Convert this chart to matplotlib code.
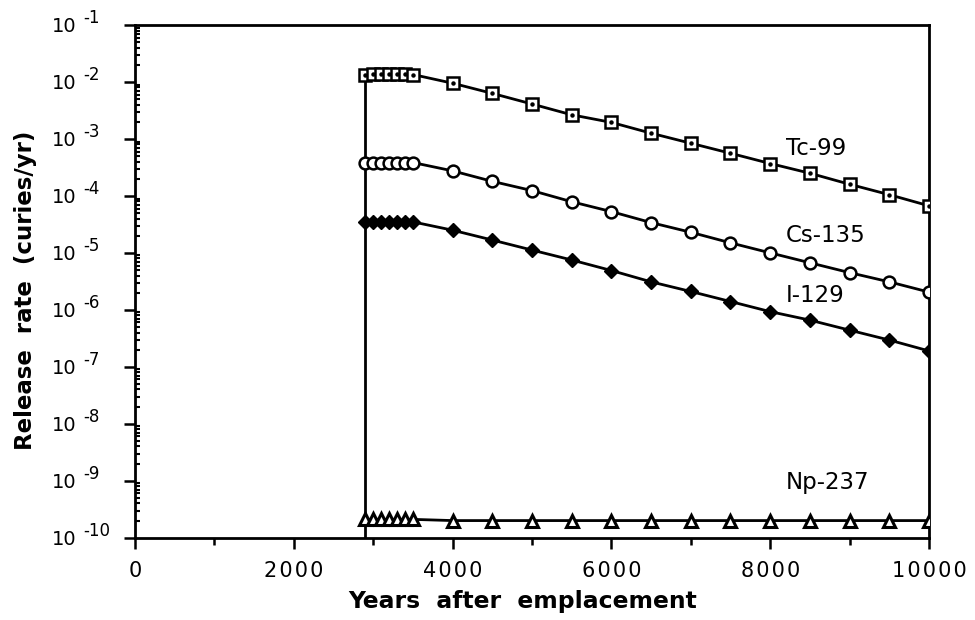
import matplotlib
matplotlib.use("Agg")
import matplotlib.pyplot as plt
from matplotlib.ticker import FixedLocator, LogLocator, NullFormatter, FuncFormatter

# ---- data ----
years = [2900, 3000, 3100, 3200, 3300, 3400, 3500,
         4000, 4500, 5000, 5500, 6000, 6500, 7000, 7500, 8000, 8500, 9000, 9500, 10000]
tc99 = [1.3e-2, 1.4e-2, 1.4e-2, 1.4e-2, 1.4e-2, 1.4e-2, 1.35e-2,
        9.5e-3, 6.3e-3, 4.1e-3, 2.65e-3, 1.95e-3, 1.26e-3, 8.4e-4, 5.6e-4, 3.7e-4,
        2.5e-4, 1.6e-4, 1.05e-4, 6.7e-5]
cs135 = [3.85e-4] * 7 + [2.75e-4, 1.8e-4, 1.24e-4, 7.9e-5, 5.3e-5, 3.4e-5, 2.3e-5,
                         1.5e-5, 1.0e-5, 6.7e-6, 4.5e-6, 3.1e-6, 2.05e-6]
i129 = [3.5e-5] * 7 + [2.5e-5, 1.68e-5, 1.12e-5, 7.5e-6, 4.9e-6, 3.1e-6, 2.1e-6,
                       1.4e-6, 9.3e-7, 6.6e-7, 4.4e-7, 2.95e-7, 1.9e-7]
np237 = [2.1e-10] * 7 + [2.0e-10] * 13

series_names = ["Tc-99", "Cs-135", "I-129", "Np-237"]
label_pos = [(8200, 6.9e-4), (8200, 1.98e-5), (8200, 1.75e-6), (8200, 9.5e-10)]
x_ticks = [0, 2000, 4000, 6000, 8000, 10000]
y_exponents = list(range(-1, -11, -1))

fig = plt.figure(figsize=(9.75, 6.2), dpi=100)
ax = fig.add_axes([0.1385, 0.1327, 0.9528 - 0.1385, 0.9597 - 0.1327])

ax.set_yscale("log")
ax.set_xlim(0, 10000)
ax.set_ylim(1e-10, 1e-1)

lw = 2.0
# vertical start line at release start
ax.vlines(years[0], 1e-10, tc99[0], colors="black", linewidth=lw, zorder=2)

ax.plot(years, tc99, color="black", lw=lw, marker="s", ms=8, mfc="white",
        mec="black", mew=1.8, zorder=3)
ax.plot(years, tc99, linestyle="none", marker="o", ms=2.2, mfc="black",
        mec="black", zorder=4)
ax.plot(years, cs135, color="black", lw=lw, marker="o", ms=8.5, mfc="white",
        mec="black", mew=1.8, zorder=3)
ax.plot(years, i129, color="black", lw=lw, marker="D", ms=7, mfc="black",
        mec="black", mew=1.0, zorder=3)
ax.plot(years, np237, color="black", lw=lw, marker="^", ms=8, mfc="white",
        mec="black", mew=2.2, zorder=3)

for name, (lx, ly) in zip(series_names, label_pos):
    ax.text(lx, ly, name, fontsize=16.5, ha="left", va="center",
            family="DejaVu Sans")

for s in ax.spines.values():
    s.set_linewidth(2.0)

# x ticks
ax.xaxis.set_major_locator(FixedLocator(x_ticks))
ax.xaxis.set_minor_locator(FixedLocator([1000, 3000, 5000, 7000, 9000]))
ax.set_xticklabels(["\u200a".join(str(t)) for t in x_ticks])
ax.tick_params(axis="x", which="major", direction="out", length=8, width=1.8,
               labelsize=15, pad=9)
ax.tick_params(axis="x", which="minor", direction="out", length=5, width=1.8)

# y ticks
ax.yaxis.set_major_locator(FixedLocator([10.0 ** e for e in y_exponents]))
ax.yaxis.set_minor_locator(LogLocator(base=10, subs=range(2, 10), numticks=100))
ax.yaxis.set_minor_formatter(NullFormatter())
ax.yaxis.set_major_formatter(FuncFormatter(lambda v, p: "10"))
ax.tick_params(axis="y", which="major", direction="out", length=8, width=1.8,
               labelsize=14, pad=34)
ax.tick_params(axis="y", which="minor", direction="in", length=3.5, width=1.5)
for e in y_exponents:
    ax.annotate("%d" % e, xy=(0, 10.0 ** e), xycoords=("axes fraction", "data"),
                xytext=(-52, 7), textcoords="offset pixels", ha="left",
                va="center", fontsize=12, annotation_clip=False)

ax.set_xlabel("Years  after  emplacement", fontsize=16.9, fontweight="bold")
ax.xaxis.set_label_coords(0.488, -0.102)
ax.set_ylabel("Release  rate  (curies/yr)", fontsize=16.5, fontweight="bold")
ax.yaxis.set_label_coords(-0.123, 0.483)

fig.savefig("out.png", dpi=100)
